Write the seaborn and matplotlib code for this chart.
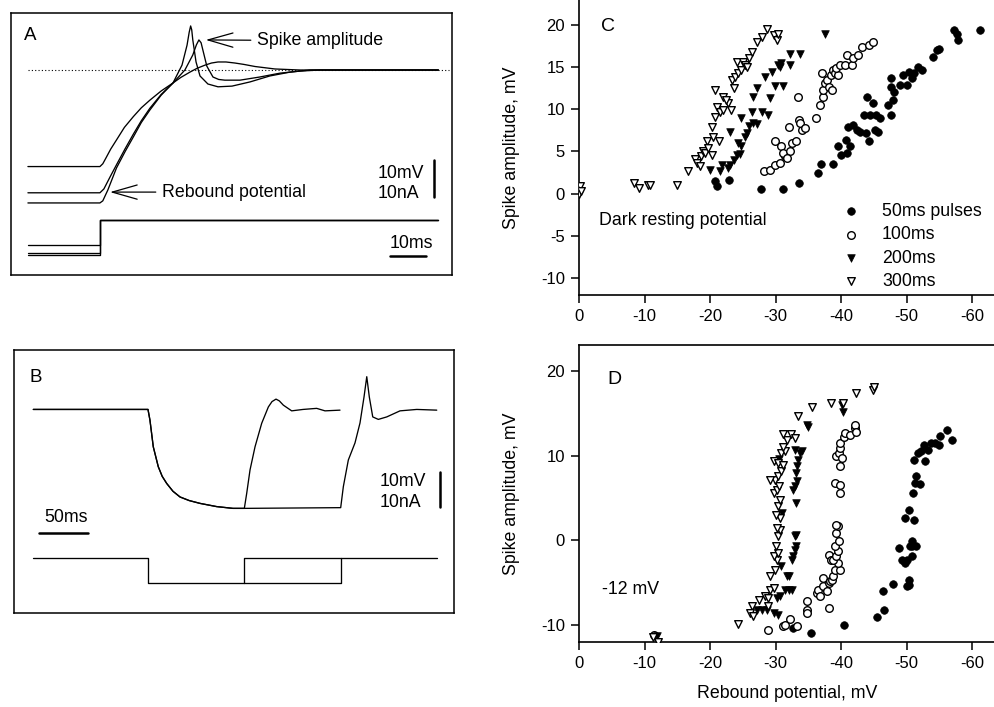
import numpy as np
import pandas as pd
import matplotlib
matplotlib.use("Agg")
import matplotlib.pyplot as plt
import seaborn as sns

sns.set_theme(style="ticks", rc={"axes.edgecolor": "black", "xtick.color": "black",
                                 "ytick.color": "black", "text.color": "black",
                                 "axes.labelcolor": "black"})
plt.rcParams['font.family'] = ['Liberation Sans', 'DejaVu Sans']
plt.rcParams['axes.unicode_minus'] = False

FS = 12.8
TICK_FS = 12

# ---------------- Panel A: rebound responses (ms after pulse end, mV re dark rest) ----------------
trA_a_t = [-20, 0, 0.8, 1.7, 3.0, 4.6, 6.8, 9.3, 11.5, 13.9, 17.0, 20.3, 22.5, 25.0, 27.0, 29.2,
           31.0, 32.8, 35.0, 37.5, 40.0, 43.1, 48.6, 55.6, 94]
trA_a_v = [-27.6, -27.6, -26.8, -25.1, -22.6, -20.0, -16.4, -13.3, -10.8, -8.6, -6.0, -3.7, -2.1,
           -0.6, 0.5, 1.4, 2.0, 2.3, 2.3, 2.0, 1.6, 1.0, 0.3, 0, 0]

trA_b_t = [-20, 0, 1.1, 2.8, 4.6, 7.0, 9.3, 11.5, 13.9, 17.0, 20.3, 22.0, 23.6, 25.8, 26.8, 27.5,
           28.1, 28.6, 29.7, 31.4, 33.0, 34.7, 38.9, 44.4, 50, 55.6, 61.1, 94]
trA_b_v = [-35.1, -35.1, -34.0, -30.6, -27.1, -22.5, -18.3, -14.5, -10.9, -7.0, -3.7, -1.8, 0, 4.3,
           7.2, 8.6, 7.8, 5.7, 1.1, -2.0, -2.7, -2.9, -2.9, -2.0, -0.9, -0.3, 0, 0]

trA_c_t = [-20, 0, 0.8, 2.2, 4.6, 7.0, 9.3, 11.5, 13.9, 17.0, 20.3, 22.8, 24.2, 24.8, 25.2, 25.5,
           25.8, 26.7, 27.8, 30, 32.8, 36.7, 41.7, 47.2, 52.8, 58.3, 94]
trA_c_v = [-38, -38, -37.4, -34.3, -28, -23.3, -19.1, -15.0, -11.4, -7.2, -3.7, 1.4, 7.1, 10.8,
           12.6, 11.5, 8.6, 2.3, -1.7, -4.0, -4.8, -4.6, -3.4, -1.7, -0.6, 0, 0]

# current monitor (display offset), step at t = 0
curA_before = [-50.0, -52.3, -52.9]
curA_after = -42.9
curA_t = [-20, 0, 0, 94]

# ---------------- Panel B: 100 ms and 200 ms pulses ----------------
decay_t = [-117, 0, 2.0, 5.4, 10.5, 14.5, 19.1, 25.5, 32.7, 42.0, 53.1, 70.0, 86.7, 98.3]
decay_v = [0, 0, -3.0, -10.5, -16.1, -18.8, -20.8, -23.0, -24.6, -25.6, -26.4, -27.3, -27.8, -27.8]

trB1_t = decay_t + [100.7, 104.1, 109.2, 116.0, 122.8, 126.5, 130.6, 134.0, 138.1, 146.6, 158.2,
                    172.1, 180.6, 195.9]
trB1_v = decay_v + [-23.6, -17.0, -10.5, -3.9, 0.7, 2.2, 2.9, 2.4, 1.2, -0.4, 0, 0.3, -0.4, -0.2]

trB2_t = decay_t + [196.6, 199.3, 204.4, 211.2, 216.3, 220.4, 223.2, 225.8, 229.3, 235.0, 243.6,
                    257.1, 274.2, 294.6]
trB2_v = decay_v + [-27.6, -21.7, -14.2, -9.4, -3.8, 3.5, 9.2, 3.5, -2.1, -2.8, -2.1, -0.4, 0, -0.2]

curB_hold = -41.7
curB_step = -48.9
curB_off = [98.3, 196.6]
curB_end = 294.6
curB_start = -117

# ---------------- Panel C: dark-adapted (spike amplitude vs rebound potential) ----------------
c50 = [(-20.8, 1.45), (-21.0, 0.86), (-22.95, 1.65), (-27.8, 0.59), (-31.2, 0.59), (-33.6, 1.26),
       (-36.5, 2.44), (-36.9, 3.49), (-38.7, 3.53), (-40.0, 4.52), (-39.6, 5.58), (-40.8, 6.36),
       (-41.3, 5.58), (-40.9, 4.79), (-41.1, 7.93), (-41.9, 8.13), (-42.4, 7.54), (-42.9, 7.34),
       (-43.8, 7.15), (-43.9, 11.39), (-44.9, 10.68), (-43.5, 9.31), (-44.4, 9.31), (-45.4, 9.31),
       (-46.0, 8.91), (-44.2, 6.16), (-45.2, 7.54), (-45.7, 7.34), (-47.2, 10.48), (-47.6, 12.64),
       (-47.6, 13.62), (-48.0, 11.07), (-48.1, 12.05), (-47.7, 9.31), (-49.0, 12.84), (-50.0, 12.84),
       (-49.5, 14.02), (-50.3, 14.41), (-50.8, 13.62), (-51.1, 14.21), (-51.8, 15.0), (-52.3, 14.6),
       (-54.1, 16.18), (-54.6, 16.96), (-54.9, 17.16), (-57.3, 19.32), (-57.7, 18.92), (-57.8, 18.14),
       (-61.2, 19.32)]
c100 = [(-28.2, 2.63), (-29.2, 2.83), (-29.9, 3.42), (-30.7, 3.61), (-31.5, 4.40), (-29.9, 6.16),
        (-30.9, 5.58), (-31.2, 4.79), (-32.2, 4.99), (-31.7, 4.20), (-32.5, 5.97), (-32.0, 7.93),
        (-33.2, 6.16), (-33.6, 8.72), (-34.0, 7.54), (-33.7, 8.32), (-34.5, 7.73), (-33.5, 11.39),
        (-36.2, 8.91), (-36.8, 10.48), (-37.2, 11.46), (-37.3, 12.25), (-37.1, 14.21), (-37.6, 13.03),
        (-37.8, 13.43), (-38.1, 12.64), (-38.6, 12.25), (-38.4, 14.02), (-38.8, 14.6), (-39.1, 14.21),
        (-39.6, 14.02), (-39.3, 14.8), (-39.8, 15.19), (-40.6, 15.19), (-40.9, 16.37), (-41.6, 15.19),
        (-41.9, 15.98), (-42.6, 16.37), (-43.2, 17.35), (-44.2, 17.55), (-44.9, 17.94)]
c200 = [(-20.0, 2.83), (-21.5, 2.63), (-21.9, 3.42), (-22.8, 3.02), (-23.1, 3.42), (-23.6, 4.0),
        (-24.1, 4.59), (-24.3, 5.97), (-24.6, 4.71), (-24.8, 5.58), (-25.3, 6.75), (-25.6, 7.15),
        (-24.8, 8.91), (-23.1, 7.34), (-25.9, 8.01), (-26.6, 8.32), (-27.1, 8.25), (-26.4, 9.70),
        (-26.6, 11.46), (-27.1, 12.45), (-27.9, 9.70), (-28.9, 9.31), (-29.1, 11.27), (-28.4, 13.82),
        (-29.4, 14.41), (-29.9, 12.72), (-30.4, 15.19), (-30.7, 15.0), (-30.9, 15.39), (-31.2, 12.72),
        (-32.2, 15.19), (-32.2, 16.57), (-33.7, 16.57), (-37.6, 18.92)]
c300 = [(0.0, 0.0), (-0.15, 0.86), (-0.25, 0.27), (-8.4, 1.26), (-9.2, 0.67), (-10.6, 1.06),
        (-10.9, 1.06), (-14.9, 1.06), (-16.7, 2.63), (-17.7, 4.08), (-18.0, 3.61), (-18.4, 3.22),
        (-18.6, 4.40), (-19.0, 4.99), (-19.5, 6.16), (-19.2, 4.79), (-19.7, 5.38), (-20.3, 4.59),
        (-20.5, 6.75), (-21.3, 6.16), (-20.3, 7.93), (-20.8, 9.11), (-21.1, 10.29), (-21.5, 9.70),
        (-22.0, 9.89), (-22.8, 10.68), (-23.2, 9.89), (-20.7, 12.25), (-22.0, 11.46), (-22.4, 11.07),
        (-23.6, 12.45), (-23.3, 13.43), (-23.8, 13.82), (-24.3, 14.21), (-24.1, 15.59), (-25.0, 15.59),
        (-24.8, 14.61), (-25.3, 15.19), (-25.9, 15.98), (-25.6, 15.0), (-26.4, 16.76), (-27.1, 17.94),
        (-27.9, 18.53), (-28.7, 19.51), (-29.7, 18.73), (-30.2, 18.14), (-30.4, 18.92)]

# ---------------- Panel D: held at -12 mV ----------------
d50 = [(-32.7, -10.34), (-35.4, -10.93), (-40.4, -9.94), (-45.5, -9.04), (-46.6, -8.18), (-46.4, -5.94),
       (-47.9, -5.11), (-50.1, -5.35), (-50.4, -5.23), (-50.3, -4.64), (-49.3, -2.28), (-49.8, -2.67),
       (-50.0, -2.28), (-48.9, -0.90), (-50.5, -0.71), (-50.9, -0.71), (-51.5, -0.71), (-50.9, -0.12),
       (-50.8, -1.81), (-49.8, 2.63), (-51.1, 2.44), (-50.4, 3.54), (-51.0, 5.58), (-51.3, 6.76),
       (-52.1, 6.68), (-51.5, 7.55), (-51.1, 9.51), (-51.8, 10.30), (-52.2, 10.61), (-52.8, 9.32),
       (-52.6, 11.28), (-53.3, 10.69), (-53.7, 11.48), (-54.4, 11.48), (-54.9, 11.28), (-55.1, 12.34),
       (-56.1, 13.05), (-56.9, 11.87)]
d100 = [(-11.5, -11.2), (-28.8, -10.61), (-31.1, -10.14), (-31.5, -9.94), (-32.2, -9.28), (-33.3, -10.06),
        (-34.8, -7.19), (-34.8, -8.18), (-34.8, -8.57), (-38.2, -7.98), (-36.3, -6.21), (-36.5, -5.82),
        (-36.8, -6.60), (-37.3, -5.42), (-37.3, -4.44), (-37.8, -6.01), (-38.1, -5.03), (-38.3, -4.83),
        (-38.6, -4.64), (-38.8, -4.25), (-39.1, -3.46), (-39.9, -3.46), (-39.6, -2.67), (-38.2, -1.69),
        (-38.4, -2.28), (-38.8, -2.28), (-39.3, -1.89), (-39.6, -1.30), (-39.1, -0.71), (-39.7, -0.12),
        (-39.3, 0.86), (-39.6, 1.65), (-39.3, 1.85), (-39.1, 6.76), (-39.8, 6.56), (-39.8, 5.58),
        (-39.3, 9.91), (-39.7, 10.30), (-39.9, 10.89), (-40.1, 9.71), (-39.8, 8.73), (-39.8, 11.48),
        (-40.4, 12.26), (-40.6, 12.66), (-41.3, 12.46), (-42.1, 13.25), (-42.2, 13.64), (-42.3, 12.85)]
d200 = [(-11.9, -11.24), (-27.1, -8.18), (-27.9, -8.18), (-28.7, -8.18), (-29.7, -8.57), (-30.4, -8.77),
        (-30.2, -6.80), (-30.7, -6.60), (-31.5, -5.82), (-32.0, -5.82), (-32.5, -5.82), (-31.7, -4.25),
        (-32.1, -4.25), (-32.5, -2.28), (-32.7, -1.89), (-33.0, -1.10), (-33.1, -0.71), (-33.0, 0.47),
        (-33.2, 0.67), (-33.1, 4.40), (-32.7, 5.97), (-33.0, 6.37), (-33.3, 6.96), (-33.2, 7.94),
        (-33.3, 8.73), (-33.5, 9.51), (-33.7, 10.30), (-34.0, 10.50), (-33.0, 10.69), (-35.0, 13.44),
        (-34.8, 13.64), (-40.3, 15.21), (-40.1, 16.0), (-30.6, 9.6), (-31.0, 3.2), (-30.8, -3.0)]
d300 = [(-12.1, -12.0), (-11.3, -11.4), (-24.3, -9.83), (-26.4, -7.78), (-26.1, -8.57), (-26.6, -8.88),
        (-27.4, -7.0), (-28.4, -6.60), (-28.9, -6.80), (-28.9, -7.78), (-29.2, -5.82), (-29.7, -5.62),
        (-29.2, -4.25), (-29.9, -3.46), (-30.2, -2.28), (-29.7, -1.89), (-30.4, -1.49), (-30.1, -0.71),
        (-30.4, 0.47), (-30.7, 1.26), (-30.2, 1.45), (-30.7, 2.63), (-30.1, 3.03), (-30.4, 4.01),
        (-30.7, 4.80), (-29.7, 5.58), (-30.2, 5.97), (-30.6, 6.37), (-29.9, 7.15), (-29.2, 7.15),
        (-30.4, 7.55), (-30.9, 8.14), (-29.7, 9.32), (-30.4, 9.12), (-31.2, 8.92), (-30.9, 10.30),
        (-31.5, 10.50), (-31.1, 11.08), (-31.7, 11.87), (-31.2, 12.58), (-32.3, 12.58), (-33.0, 12.07),
        (-33.5, 14.70), (-35.6, 15.72), (-38.4, 16.27), (-40.3, 16.27), (-42.3, 17.45), (-44.9, 17.77),
        (-45.0, 18.08)]

series_labels = ["50ms pulses", "100ms", "200ms", "300ms"]
series_marker = ["o", "o", "v", "v"]
series_filled = [True, False, True, False]

# ---------------- figure ----------------
W, H = 995, 707
fig = plt.figure(figsize=(W / 100, H / 100), dpi=100)


def px_axes(l, t, r, b):
    return fig.add_axes([l / W, 1 - b / H, (r - l) / W, (b - t) / H])


axA = px_axes(11, 13, 452, 275)
axB = px_axes(14, 350, 454, 613)
axC = px_axes(579, 0, 995, 295)
axD = px_axes(579, 345, 995, 642)


def trace(ax, t, v, lw=0.95, **kw):
    sns.lineplot(x=t, y=v, ax=ax, color="black", lw=lw, sort=False, estimator=None, **kw)


# ---- A ----
axA.set_xlim(-24.7, 97.8)
axA.set_ylim(-58.6, 16.3)
sns.lineplot(x=[-20, 97], y=[0, 0], ax=axA, color="black", lw=0.8, ls=(0, (1, 2)))
for t, v in [(trA_a_t, trA_a_v), (trA_b_t, trA_b_v), (trA_c_t, trA_c_v)]:
    trace(axA, t, v)
for lev in curA_before:
    trace(axA, curA_t, [lev, lev, curA_after, curA_after])
axA.text(-21.1, 10, "A", fontsize=13.5, ha="left", va="center")
arrow = dict(arrowstyle="->, head_length=1.4, head_width=0.4", lw=0.9, color="black",
             shrinkA=2, shrinkB=0)
axA.annotate("Spike amplitude", xy=(29.4, 8.6), xytext=(43.6, 8.4), fontsize=FS,
             ha="left", va="center", arrowprops=arrow)
axA.annotate("Rebound potential", xy=(2.8, -34.9), xytext=(17.2, -34.9), fontsize=FS,
             ha="left", va="center", arrowprops=arrow)
axA.text(77.1, -29.5, "10mV", fontsize=FS, ha="left", va="center")
axA.text(77.1, -35.2, "10nA", fontsize=FS, ha="left", va="center")
axA.text(80.6, -49.7, "10ms", fontsize=FS, ha="left", va="center")
trace(axA, [80.6, 90.6], [-53.1, -53.1], lw=1.8)
trace(axA, [92.8, 92.8], [-25.7, -36.3], lw=1.8)

# ---- B ----
axB.set_xlim(-136.7, 312.2)
axB.set_ylim(-57.2, 16.7)
trace(axB, trB1_t, trB1_v)
trace(axB, trB2_t, trB2_v)
trace(axB, [curB_start, 0, 0, curB_off[0], curB_off[0], curB_end],
      [curB_hold, curB_hold, curB_step, curB_step, curB_hold, curB_hold])
trace(axB, [curB_off[0], curB_off[1], curB_off[1]], [curB_step, curB_step, curB_hold])
axB.text(-120.4, 9.1, "B", fontsize=13.5, ha="left", va="center")
axB.text(-106.1, -30.5, "50ms", fontsize=FS, ha="left", va="center")
trace(axB, [-110.9, -60.9], [-34.8, -34.8], lw=1.8)
axB.text(236.7, -20.3, "10mV", fontsize=FS, ha="left", va="center")
axB.text(236.7, -26.1, "10nA", fontsize=FS, ha="left", va="center")
trace(axB, [298, 298], [-17.5, -27.5], lw=1.8)

for ax in (axA, axB):
    ax.set_xticks([])
    ax.set_yticks([])
    ax.set_xlabel("")
    ax.set_ylabel("")
    for s in ax.spines.values():
        s.set_linewidth(1.1)
        s.set_color("black")


# ---- C & D scatter ----
def scatter_panel(ax, sets, with_labels=False):
    for pts, lab, mk, filled in zip(sets, series_labels, series_marker, series_filled):
        arr = np.array(pts)
        df = pd.DataFrame({"x": arr[:, 0], "y": arr[:, 1]})
        sns.scatterplot(data=df, x="x", y="y", ax=ax, marker=mk, s=30,
                        color="black" if filled else "white", edgecolor="black",
                        linewidth=0.5 if filled else 1.0,
                        label=lab if with_labels else None, legend=False, zorder=3)
    ax.set_xlim(0, -63.5)
    ax.set_xticks([0, -10, -20, -30, -40, -50, -60])
    ax.set_xticklabels(["0", "-10", "-20", "-30", "-40", "-50", "-60"])
    ax.tick_params(direction="out", length=6, width=1.1, labelsize=TICK_FS, pad=4)
    for s in ax.spines.values():
        s.set_linewidth(1.2)
    ax.spines["right"].set_visible(False)
    ax.set_xlabel("")
    ax.set_ylabel("Spike amplitude, mV", fontsize=FS, labelpad=15)


scatter_panel(axC, [c50, c100, c200, c300], with_labels=True)
axC.set_ylim(-12, 22.9)
axC.set_yticks([-10, -5, 0, 5, 10, 15, 20])
axC.set_yticklabels(["-10", "-5", "0", "5", "10", "15", "20"])
axC.spines["top"].set_visible(False)
axC.text(-3.3, 19.8, "C", fontsize=14, ha="left", va="center")
axC.text(-3.1, -3.2, "Dark resting potential", fontsize=FS, ha="left", va="center")
axC.legend(loc="upper left", bbox_to_anchor=(0.6325, 0.3125), frameon=False, fontsize=FS,
           handlelength=1.0, handletextpad=1.24, labelspacing=0.36, borderpad=0,
           borderaxespad=0, markerscale=1.0)

scatter_panel(axD, [d50, d100, d200, d300])
axD.set_ylim(-12, 23.07)
axD.set_yticks([-10, 0, 10, 20])
axD.set_yticklabels(["-10", "0", "10", "20"])
axD.text(-4.4, 18.95, "D", fontsize=14, ha="left", va="center")
axD.text(-3.5, -5.8, "-12 mV", fontsize=FS, ha="left", va="center")
axD.set_xlabel("Rebound potential, mV", fontsize=FS, labelpad=10)

fig.savefig("out.png", dpi=100)
